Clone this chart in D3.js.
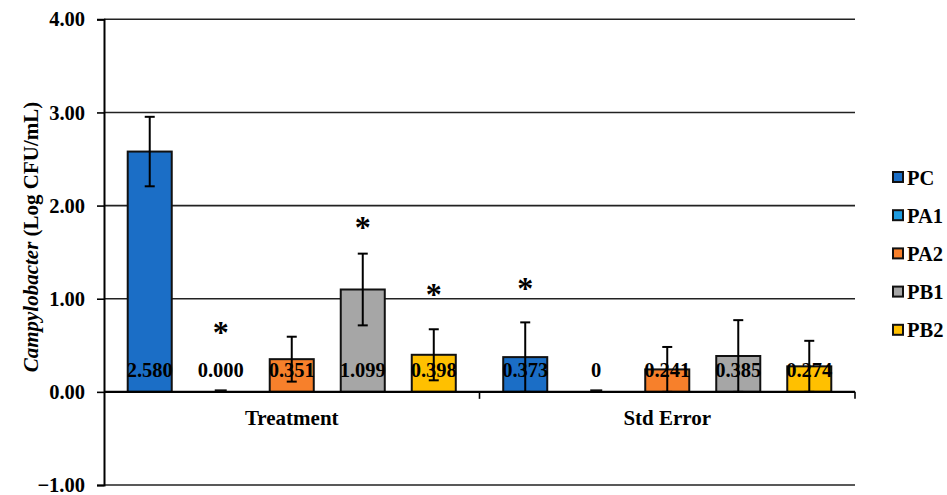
<!DOCTYPE html>
<html>
<head>
<meta charset="utf-8">
<script src="https://cdn.jsdelivr.net/npm/d3@7/dist/d3.min.js"></script>
<style>
  html, body { margin: 0; padding: 0; background: #fff; }
  svg { display: block; }
  text { font-family: "Liberation Serif", "Times New Roman", serif; font-weight: bold; fill: #000; }
</style>
</head>
<body>
<svg id="chart" width="947" height="495"></svg>
<script>
// Categories along the x axis and the five series in each
const groups = ["Treatment", "Std Error"];
const series = ["PC", "PA1", "PA2", "PB1", "PB2"];
const seriesColors = ["#1b6ec6", "#1e9ce0", "#f7802b", "#a6a6a6", "#ffc000"];

// Mean log counts and their standard errors
const treatmentValues = [2.580, 0.000, 0.351, 1.099, 0.398];
const stdErrorValues  = [0.373, 0, 0.241, 0.385, 0.274];
// Error bar half-widths (same standard errors for both groups)
const errorValues     = [0.373, 0, 0.241, 0.385, 0.274];

// Significance markers: group, series, height (data units) of the asterisk
const sigGroups  = ["Treatment", "Treatment", "Treatment", "Std Error"];
const sigSeries  = ["PA1", "PB1", "PB2", "PC"];
const sigLevels  = [0.684, 1.811, 1.095, 1.159];

const yTicks = [-1, 0, 1, 2, 3, 4];

const svg = d3.select("#chart");
const plot = { left: 104, right: 855, top: 19.3, bottom: 485 };

const y = d3.scaleLinear().domain([-1, 4]).range([plot.bottom, plot.top]);
const x0 = d3.scaleBand().domain(groups).range([plot.left, plot.right]);
const x1 = d3.scaleBand().domain(series).range([0, x0.bandwidth()])
  .paddingInner(0.38).paddingOuter(0.334);
const color = d3.scaleOrdinal().domain(series).range(seriesColors);

const rows = [];
groups.forEach((g, gi) => {
  const vals = gi === 0 ? treatmentValues : stdErrorValues;
  series.forEach((s, si) => {
    rows.push({ group: g, series: s, value: vals[si], err: errorValues[si], gi });
  });
});
const barCenter = d => x0(d.group) + x1(d.series) + x1.bandwidth() / 2;

// Horizontal gridlines
svg.append("g")
  .selectAll("line")
  .data(yTicks.filter(t => t !== 0))
  .join("line")
  .attr("x1", plot.left).attr("x2", plot.right)
  .attr("y1", d => y(d)).attr("y2", d => y(d))
  .attr("stroke", "#222").attr("stroke-width", 1.6);

// Value axis
const yAxis = svg.append("g")
  .attr("transform", `translate(${plot.left},0)`)
  .call(d3.axisLeft(y).tickValues(yTicks).tickFormat(d3.format(".2f")).tickSize(7).tickPadding(12));
yAxis.select(".domain").attr("stroke", "#000").attr("stroke-width", 2);
yAxis.selectAll(".tick line").attr("stroke", "#000").attr("stroke-width", 1.6);
yAxis.selectAll(".tick text")
  .attr("font-family", "Liberation Serif, Times New Roman, serif")
  .attr("font-weight", "bold")
  .attr("font-size", 20.5)
  .attr("fill", "#000");

// Bars
const bars = svg.append("g");
bars.selectAll("rect")
  .data(rows.filter(d => d.value > 0))
  .join("rect")
  .attr("x", d => x0(d.group) + x1(d.series))
  .attr("width", x1.bandwidth())
  .attr("y", d => y(d.value))
  .attr("height", d => y(0) - y(d.value))
  .attr("fill", d => color(d.series))
  .attr("stroke", "#111")
  .attr("stroke-width", 2);
// Zero-height bars show only as a short outline stub on the axis
bars.selectAll("line")
  .data(rows.filter(d => d.value === 0))
  .join("line")
  .attr("x1", d => barCenter(d) - 6).attr("x2", d => barCenter(d) + 6)
  .attr("y1", y(0) - 1.5).attr("y2", y(0) - 1.5)
  .attr("stroke", "#111").attr("stroke-width", 2);

// Error bars
const eb = svg.append("g").attr("stroke", "#000").attr("stroke-width", 2);
rows.filter(d => d.err > 0).forEach(d => {
  const cx = barCenter(d);
  const lo = Math.max(0, d.value - d.err), hi = d.value + d.err;
  eb.append("line").attr("x1", cx).attr("x2", cx).attr("y1", y(lo)).attr("y2", y(hi));
  eb.append("line").attr("x1", cx - 5).attr("x2", cx + 5).attr("y1", y(hi)).attr("y2", y(hi));
  eb.append("line").attr("x1", cx - 5).attr("x2", cx + 5).attr("y1", y(lo)).attr("y2", y(lo));
});

// Category axis along zero
svg.append("line")
  .attr("x1", plot.left).attr("x2", plot.right)
  .attr("y1", y(0)).attr("y2", y(0))
  .attr("stroke", "#000").attr("stroke-width", 2.2);
svg.append("g")
  .selectAll("line")
  .data(groups.slice(1).map(g => x0(g)).concat([plot.right]))
  .join("line")
  .attr("x1", d => d).attr("x2", d => d)
  .attr("y1", y(0)).attr("y2", y(0) + 7)
  .attr("stroke", "#000").attr("stroke-width", 1.6);
svg.append("g")
  .selectAll("text")
  .data(groups)
  .join("text")
  .attr("x", d => x0(d) + x0.bandwidth() / 2)
  .attr("y", y(0) + 33)
  .attr("text-anchor", "middle")
  .attr("font-size", 21)
  .text(d => d);

// Value labels at the bar base
const fmt = d3.format(".3f");
svg.append("g")
  .selectAll("text")
  .data(rows)
  .join("text")
  .attr("x", barCenter)
  .attr("y", y(0) - 15)
  .attr("text-anchor", "middle")
  .attr("font-size", 20.5)
  .text(d => d.gi === 1 && d.value === 0 ? "0" : fmt(d.value));

// Significance asterisks
svg.append("g")
  .selectAll("text")
  .data(sigSeries.map((s, i) => ({ group: sigGroups[i], series: s, v: sigLevels[i] })))
  .join("text")
  .attr("x", barCenter)
  .attr("y", d => y(d.v) + 15)
  .attr("text-anchor", "middle")
  .attr("font-size", 32)
  .attr("font-weight", "normal")
  .text("*");

// Axis title
const title = svg.append("text")
  .attr("transform", `translate(38,237) rotate(-90)`)
  .attr("text-anchor", "middle")
  .attr("font-size", 21);
title.append("tspan").attr("font-style", "italic").text("Campylobacter");
title.append("tspan").text(" (Log CFU/mL)");

// Legend
const legend = svg.append("g");
const li = legend.selectAll("g")
  .data(series)
  .join("g")
  .attr("transform", (d, i) => `translate(893,${177 + i * 38.2})`);
li.append("rect")
  .attr("x", 0).attr("y", -5).attr("width", 10).attr("height", 10)
  .attr("fill", d => color(d))
  .attr("stroke", "#111").attr("stroke-width", 2);
li.append("text")
  .attr("x", 14).attr("y", 7.5)
  .attr("font-size", 20.5)
  .text(d => d);
</script>
</body>
</html>
